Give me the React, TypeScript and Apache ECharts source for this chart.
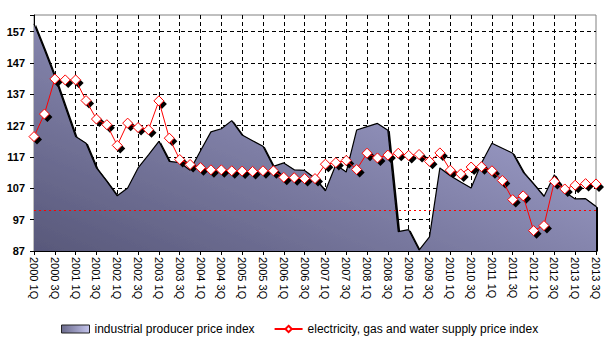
import React, { useEffect, useRef } from "react";
import * as echarts from "echarts";

const categories = [
  "2000 1Q", "2000 2Q", "2000 3Q", "2000 4Q",
  "2001 1Q", "2001 2Q", "2001 3Q", "2001 4Q",
  "2002 1Q", "2002 2Q", "2002 3Q", "2002 4Q",
  "2003 1Q", "2003 2Q", "2003 3Q", "2003 4Q",
  "2004 1Q", "2004 2Q", "2004 3Q", "2004 4Q",
  "2005 1Q", "2005 2Q", "2005 3Q", "2005 4Q",
  "2006 1Q", "2006 2Q", "2006 3Q", "2006 4Q",
  "2007 1Q", "2007 2Q", "2007 3Q", "2007 4Q",
  "2008 1Q", "2008 2Q", "2008 3Q", "2008 4Q",
  "2009 1Q", "2009 2Q", "2009 3Q", "2009 4Q",
  "2010 1Q", "2010 2Q", "2010 3Q", "2010 4Q",
  "2011 1Q", "2011 2Q", "2011 3Q", "2011 4Q",
  "2012 1Q", "2012 2Q", "2012 3Q", "2012 4Q",
  "2013 1Q", "2013 2Q", "2013 3Q",
];

const industrialIndex = [
  159.5, 151.2, 142.6, 133.0, 123.5, 121.4, 113.5, 109.2, 104.6, 107.1,
  113.5, 117.7, 122.0, 115.6, 115.2, 112.8, 119.0, 125.0, 126.0, 128.6,
  124.0, 122.2, 120.4, 114.0, 115.1, 112.9, 112.7, 110.2, 106.2, 114.5,
  112.2, 125.6, 126.7, 127.7, 125.5, 93.2, 93.8, 87.3, 91.5, 113.5,
  111.0, 109.0, 107.1, 115.1, 121.4, 119.8, 118.2, 112.2, 108.4, 104.4,
  111.3, 105.8, 103.6, 103.7, 101.2,
];

const utilitiesIndex = [
  123.5, 130.7, 141.9, 141.6, 141.6, 135.0, 129.1, 127.3, 120.7, 127.8,
  126.4, 125.7, 134.9, 123.0, 116.2, 114.6, 113.6, 112.9, 112.9, 112.6,
  112.5, 112.4, 112.6, 112.6, 110.5, 110.4, 110.1, 110.1, 114.7, 115.2,
  115.9, 113.0, 118.2, 116.7, 117.6, 118.2, 117.5, 117.8, 115.6, 118.3,
  112.8, 111.6, 113.8, 113.9, 112.6, 109.5, 103.4, 104.6, 93.5, 95.1,
  109.2, 106.8, 108.0, 108.5, 108.4,
];

const referenceLevel = 100;
const yMin = 87;
const yMax = 162.3;
const yInterval = 10;

const seriesNames = [
  "industrial producer price index",
  "electricity, gas and water supply price index",
];

const FONT = 'Arial, "Liberation Sans", sans-serif';

export default function App() {
  const ref = useRef<HTMLDivElement>(null);

  useEffect(() => {
    if (!ref.current) return;
    const chart = echarts.init(ref.current, null, { renderer: "svg" });

    const areaGradient = new echarts.graphic.LinearGradient(0, 1, 1, 0, [
      { offset: 0, color: "#58587a" },
      { offset: 1, color: "#b2b2e0" },
    ]);
    const legendGradient = new echarts.graphic.LinearGradient(0, 0, 1, 0, [
      { offset: 0, color: "#6a6a8c" },
      { offset: 1, color: "#c4c4ec" },
    ]);

    chart.setOption({
      animation: false,
      backgroundColor: "#ffffff",
      textStyle: { fontFamily: FONT },
      grid: {
        left: 34,
        right: 16,
        top: 15,
        bottom: 102,
        show: true,
        borderColor: "#808080",
        borderWidth: 1,
        backgroundColor: "transparent",
      },
      legend: {
        top: 323,
        left: 61,
        padding: 0,
        itemWidth: 28,
        itemHeight: 8,
        itemGap: 19,
        textStyle: { fontFamily: FONT, fontSize: 12, color: "#000" },
        data: [
          {
            name: seriesNames[0],
            icon: "rect",
            itemStyle: { color: legendGradient, borderColor: "#222", borderWidth: 1 },
          },
          { name: seriesNames[1] },
        ],
      },
      xAxis: {
        type: "category",
        data: categories,
        boundaryGap: false,
        axisLine: { show: true, lineStyle: { color: "#000", width: 1 } },
        axisTick: { show: true, interval: 1, length: 4, lineStyle: { color: "#000" } },
        axisLabel: {
          interval: 1,
          rotate: -90,
          margin: 6,
          fontFamily: FONT,
          fontSize: 11,
          color: "#000",
        },
        splitLine: {
          show: true,
          interval: 1,
          showMinLine: false,
          showMaxLine: false,
          lineStyle: { color: "#000", type: [4, 3], width: 1 },
        },
      },
      yAxis: {
        type: "value",
        min: yMin,
        max: yMax,
        interval: yInterval,
        axisLine: { show: true, lineStyle: { color: "#000", width: 1 } },
        axisTick: { show: true, length: 4, lineStyle: { color: "#000" } },
        axisLabel: {
          fontFamily: FONT,
          fontSize: 11,
          fontWeight: "bold",
          color: "#000",
          margin: 9,
          formatter: (v: number) => (v > 157.5 ? "" : String(Math.round(v))),
        },
        splitLine: {
          show: true,
          showMinLine: false,
          showMaxLine: false,
          lineStyle: { color: "#000", type: [4, 3], width: 1 },
        },
      },
      series: [
        {
          name: seriesNames[0],
          type: "line",
          data: industrialIndex,
          symbol: "none",
          z: 2,
          lineStyle: { color: "#000", width: 1.2 },
          itemStyle: { color: "#8a8ab4" },
          areaStyle: {
            origin: "start",
            color: areaGradient,
            opacity: 1,
            shadowColor: "#000",
            shadowBlur: 0,
            shadowOffsetX: 2,
            shadowOffsetY: 1,
          },
          markLine: {
            silent: true,
            symbol: ["none", "none"],
            label: { show: false },
            lineStyle: { color: "#ff0000", type: [2, 3], width: 1 },
            data: [{ yAxis: referenceLevel }],
          },
        },
        {
          name: "shadow",
          type: "line",
          data: utilitiesIndex,
          silent: true,
          z: 3,
          symbol: "diamond",
          symbolSize: 10,
          symbolOffset: [3, 3],
          showAllSymbol: true,
          lineStyle: { width: 0, opacity: 0 },
          itemStyle: { color: "#000", borderWidth: 0 },
        },
        {
          name: seriesNames[1],
          type: "line",
          data: utilitiesIndex,
          z: 4,
          symbol: "diamond",
          symbolSize: 10,
          showAllSymbol: true,
          lineStyle: { color: "#ff0000", width: 1 },
          itemStyle: { color: "#ffffff", borderColor: "#ff0000", borderWidth: 1 },
        },
      ],
    });

    return () => chart.dispose();
  }, []);

  return <div ref={ref} style={{ width: 612, height: 353, position: "absolute", left: 0, top: 0 }} />;
}
